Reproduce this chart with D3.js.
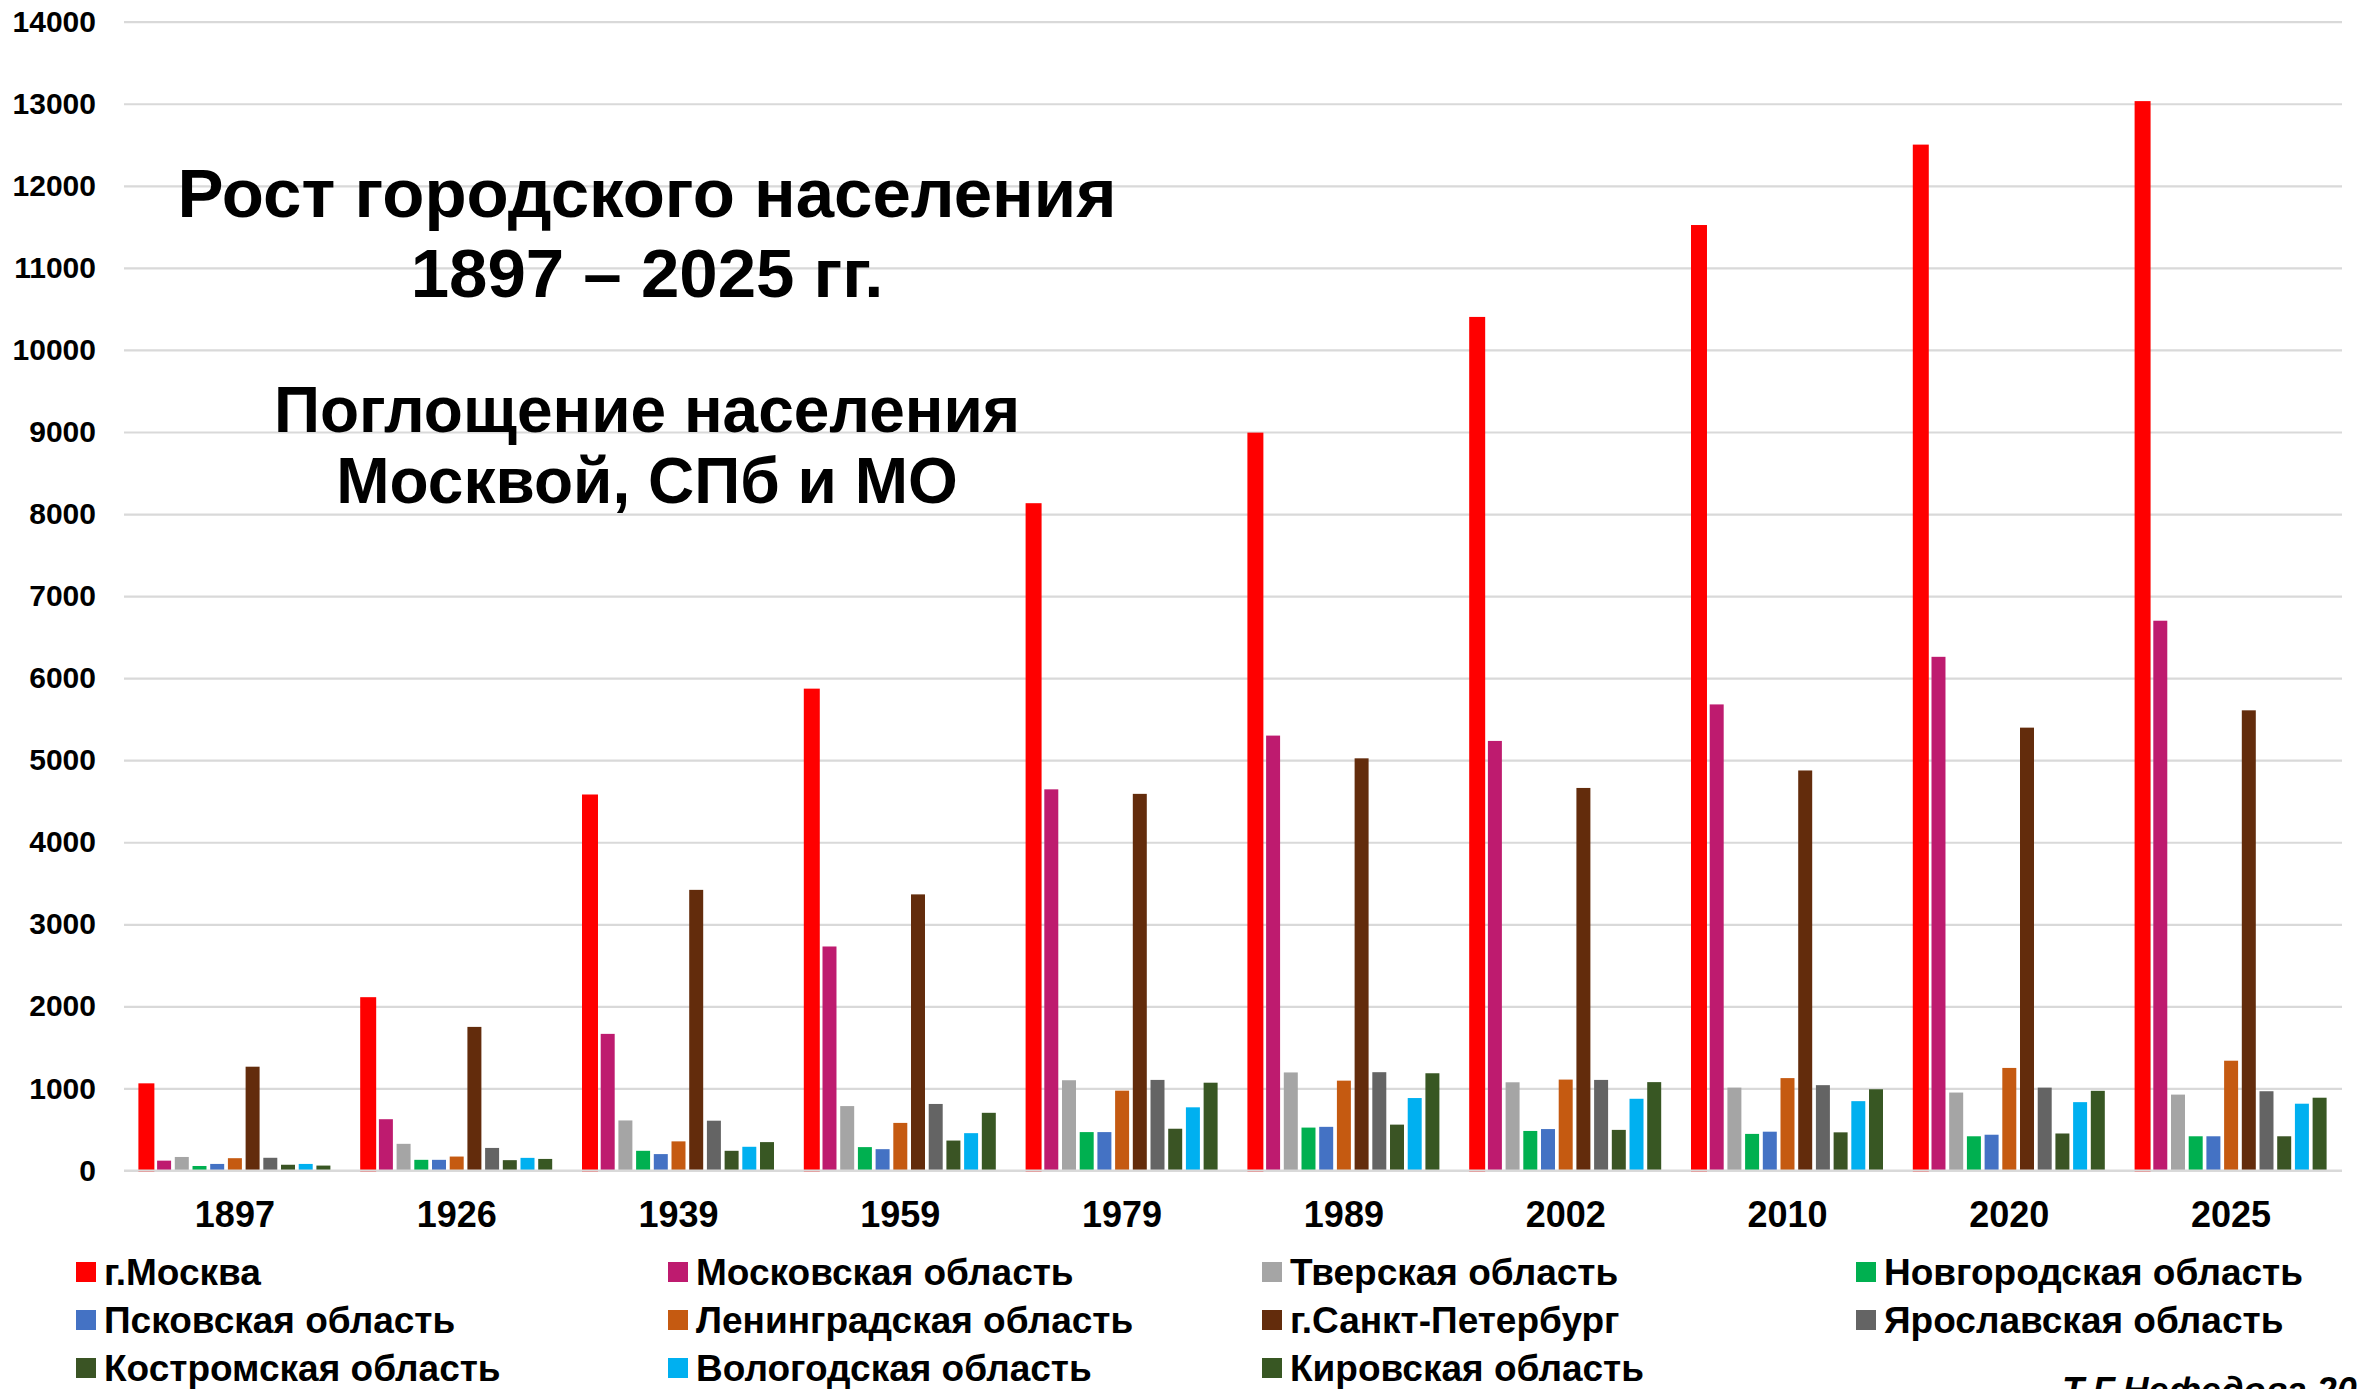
<!DOCTYPE html>
<html>
<head>
<meta charset="utf-8">
<script src="https://cdn.jsdelivr.net/npm/d3@7"></script>
<style>
  body { margin: 0; background: #fff; overflow: hidden; }
  svg { display: block; font-family: "Liberation Sans", Arial, sans-serif; }
</style>
</head>
<body>
<script>
// data (thousand people)
const years = ["1897", "1926", "1939", "1959", "1979", "1989", "2002", "2010", "2020", "2025"];
const regions = ["г.Москва", "Московская область", "Тверская область", "Новгородская область",
  "Псковская область", "Ленинградская область", "г.Санкт-Петербург", "Ярославская область",
  "Костромская область", "Вологодская область", "Кировская область"];
const colors = ["#ff0000", "#be1b6f", "#a5a5a5", "#00b050", "#4472c4", "#c55a11",
  "#632c0c", "#646464", "#3a5424", "#00b0f0", "#385723"];

const moscow     = [1050, 2100, 4570, 5860, 8120, 8980, 10390, 11510, 12490, 13020];
const moscowObl  = [120, 625, 1665, 2730, 4645, 5300, 5235, 5680, 6260, 6700];
const tver       = [165, 325, 610, 785, 1100, 1195, 1075, 1010, 950, 925];
const novgorod   = [55, 130, 240, 285, 468, 523, 482, 446, 417, 417];
const pskov      = [80, 130, 200, 260, 468, 532, 505, 473, 436, 417];
const leningrad  = [150, 170, 355, 580, 973, 1095, 1108, 1126, 1250, 1338];
const spb        = [1265, 1750, 3420, 3365, 4590, 5023, 4662, 4875, 5397, 5608];
const yaroslavl  = [155, 275, 607, 811, 1104, 1198, 1104, 1040, 1010, 966];
const kostroma   = [70, 126, 240, 365, 509, 559, 495, 465, 451, 417];
const vologda    = [80, 154, 289, 455, 770, 883, 874, 845, 833, 814];
const kirov      = [60, 141, 346, 703, 1070, 1185, 1077, 990, 971, 887];

const series = [moscow, moscowObl, tver, novgorod, pskov, leningrad, spb, yaroslavl, kostroma, vologda, kirov];
const yTicks = d3.range(0, 14001, 1000);

const width = 2359;
const height = 1389;
const plotLeft = 124, plotRight = 2342, plotTop = 21.7, plotBottom = 1170.5;

const svg = d3.select("body").append("svg")
  .attr("width", width)
  .attr("height", height);

const x0 = d3.scaleBand().domain(years).range([plotLeft, plotRight]);
const x1 = d3.scaleBand().domain(d3.range(regions.length))
  .range([0, x0.bandwidth()])
  .paddingInner(0.21)
  .paddingOuter(0.87);
const y = d3.scaleLinear().domain([0, 14000]).range([plotBottom, plotTop]);

// gridlines + y labels
const yAxis = svg.append("g")
  .attr("transform", `translate(${plotLeft},0)`)
  .call(d3.axisLeft(y).tickValues(yTicks).tickFormat(d3.format("d"))
    .tickSize(-(plotRight - plotLeft)).tickPadding(28));
yAxis.select(".domain").remove();
yAxis.selectAll(".tick line").attr("stroke", "#d9d9d9").attr("stroke-width", 2.2);
yAxis.selectAll(".tick text")
  .attr("fill", "#000")
  .style("font-size", "30px")
  .style("font-weight", "bold")
  .style("font-family", "'Liberation Sans', Arial, sans-serif");

// title
const title = svg.append("g")
  .attr("text-anchor", "middle")
  .style("font-weight", "bold")
  .attr("fill", "#000");
[["Рост городского населения", 217, 69], ["1897 – 2025 гг.", 297, 69],
 ["Поглощение населения", 432, 64], ["Москвой, СПб и МО", 503, 64]].forEach(d => {
  title.append("text").attr("x", 647).attr("y", d[1])
    .style("font-size", d[2] + "px").text(d[0]);
});

// bars
const groups = svg.append("g").selectAll("g")
  .data(years)
  .join("g")
  .attr("transform", d => `translate(${x0(d)},0)`);

groups.selectAll("rect")
  .data((yr, i) => series.map((s, k) => ({ k: k, v: s[i] })))
  .join("rect")
  .attr("x", d => x1(d.k))
  .attr("width", x1.bandwidth())
  .attr("y", d => y(d.v))
  .attr("height", d => y(0) - y(d.v))
  .attr("fill", d => colors[d.k])
  .attr("stroke", d => d.k === 0 ? colors[0] : "none")
  .attr("stroke-width", 2);

// x axis
const xAxis = svg.append("g")
  .attr("transform", `translate(0,${plotBottom})`)
  .call(d3.axisBottom(x0).tickSize(0));
xAxis.select(".domain").attr("stroke", "#d9d9d9").attr("stroke-width", 2.2)
  .attr("d", `M${plotLeft},0H${plotRight}`);
xAxis.selectAll(".tick text")
  .attr("y", 56)
  .attr("dy", 0)
  .attr("fill", "#000")
  .style("font-size", "36px")
  .style("font-weight", "bold")
  .style("font-family", "'Liberation Sans', Arial, sans-serif");

// legend
const legX = [76, 668, 1262, 1856];
const legY = [1285, 1333, 1381];
const legend = svg.append("g").selectAll("g")
  .data(regions)
  .join("g")
  .attr("transform", (d, i) => `translate(${legX[i % 4]},${legY[Math.floor(i / 4)]})`);
legend.append("rect")
  .attr("x", 0).attr("y", -23)
  .attr("width", 20).attr("height", 20)
  .attr("fill", (d, i) => colors[i]);
legend.append("text")
  .attr("x", 28)
  .attr("y", 0)
  .style("font-size", "37px")
  .style("font-weight", "bold")
  .text(d => d);

// author (cut by the bottom edge, as in the source)
svg.append("text")
  .attr("x", 2062)
  .attr("y", 1403)
  .style("font-size", "36px")
  .style("font-weight", "bold")
  .style("font-style", "italic")
  .text("Т.Г.Нефедова 2025");
</script>
</body>
</html>
